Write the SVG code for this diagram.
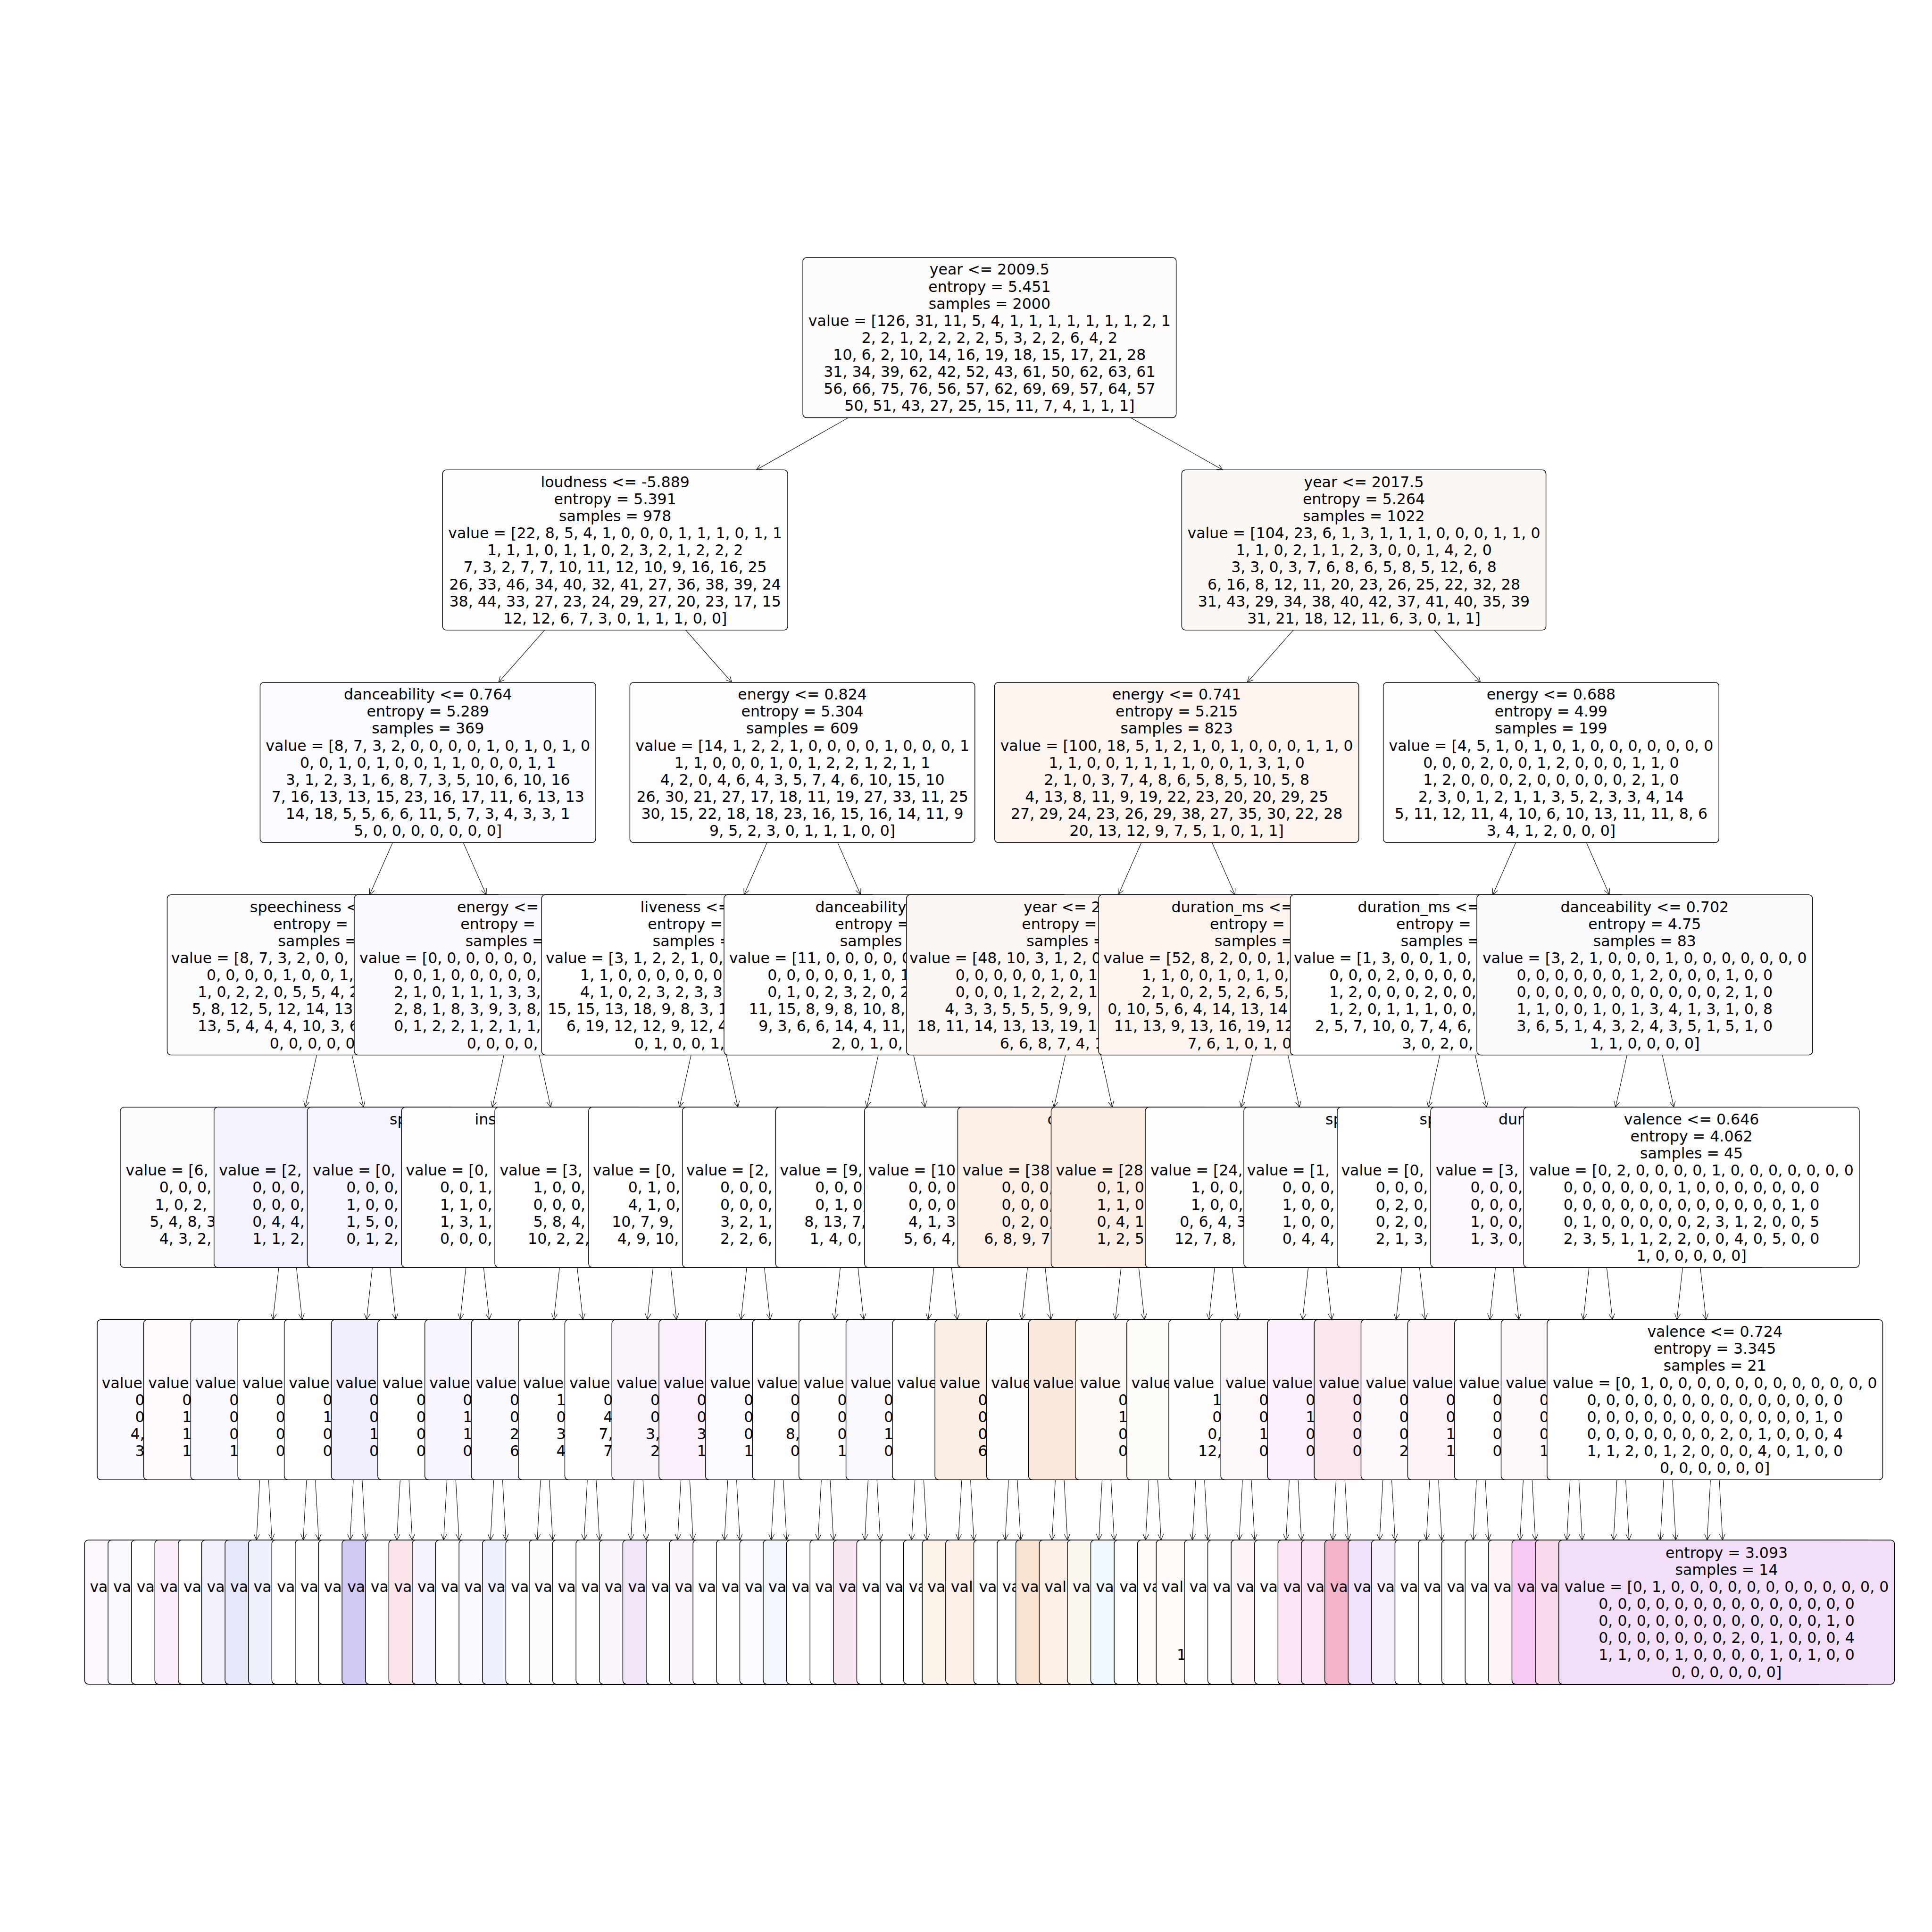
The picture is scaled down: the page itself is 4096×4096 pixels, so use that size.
<svg xmlns="http://www.w3.org/2000/svg" width="4096" height="4096" viewBox="0 0 4096 4096">
<defs>
<style>
text{font-family:"DejaVu Sans","Liberation Sans",sans-serif;font-size:12.1px;fill:#000}
.m{text-anchor:middle}
.e{text-anchor:end}
.n rect{stroke:#000;stroke-width:0.55}
#connectors path{fill:none;stroke:#000;stroke-width:0.4;marker-end:url(#ah)}
</style>
<marker id="ah" markerUnits="userSpaceOnUse" markerWidth="12" markerHeight="12" viewBox="-6 -6 12 12" refX="0" refY="0" orient="auto" overflow="visible">
<path d="M-4.8,-2.3 L0,0 L-4.8,2.3" fill="none" stroke="#000" stroke-width="0.4"/>
</marker>
</defs>
<rect width="4096" height="4096" fill="#fff"/>
<g transform="scale(2.6122449)">
<g id="connectors">
<path d="M688.53,339 L613.80,381.4"/><path d="M917.64,339 L992.37,381.4"/>
<path d="M441.97,511.4 L404.61,553.8"/><path d="M556.53,511.4 L593.89,553.8"/>
<path d="M1049.65,511.4 L1012.29,553.8"/><path d="M1164.20,511.4 L1201.57,553.8"/>
<path d="M318.69,683.8 L300.00,726.2"/><path d="M375.97,683.8 L394.65,726.2"/>
<path d="M622.53,683.8 L603.85,726.2"/><path d="M679.81,683.8 L698.49,726.2"/>
<path d="M926.37,683.8 L907.69,726.2"/><path d="M983.65,683.8 L1002.33,726.2"/>
<path d="M1230.21,683.8 L1211.53,726.2"/><path d="M1287.49,683.8 L1306.17,726.2"/>
<path d="M257.05,856.2 L247.71,898.6"/><path d="M285.69,856.2 L295.03,898.6"/>
<path d="M408.97,856.2 L399.63,898.6"/><path d="M437.61,856.2 L446.95,898.6"/>
<path d="M560.89,856.2 L551.55,898.6"/><path d="M589.53,856.2 L598.87,898.6"/>
<path d="M712.81,856.2 L703.47,898.6"/><path d="M741.45,856.2 L750.79,898.6"/>
<path d="M864.73,856.2 L855.39,898.6"/><path d="M893.37,856.2 L902.71,898.6"/>
<path d="M1016.65,856.2 L1007.31,898.6"/><path d="M1045.29,856.2 L1054.63,898.6"/>
<path d="M1168.57,856.2 L1159.23,898.6"/><path d="M1197.21,856.2 L1206.55,898.6"/>
<path d="M1320.49,856.2 L1311.15,898.6"/><path d="M1349.13,856.2 L1358.47,898.6"/>
<path d="M226.23,1028.6 L221.56,1071"/><path d="M240.55,1028.6 L245.22,1071"/>
<path d="M302.19,1028.6 L297.52,1071"/><path d="M316.51,1028.6 L321.18,1071"/>
<path d="M378.15,1028.6 L373.48,1071"/><path d="M392.47,1028.6 L397.14,1071"/>
<path d="M454.11,1028.6 L449.44,1071"/><path d="M468.43,1028.6 L473.10,1071"/>
<path d="M530.07,1028.6 L525.40,1071"/><path d="M544.39,1028.6 L549.06,1071"/>
<path d="M606.03,1028.6 L601.36,1071"/><path d="M620.35,1028.6 L625.02,1071"/>
<path d="M681.99,1028.6 L677.32,1071"/><path d="M696.31,1028.6 L700.98,1071"/>
<path d="M757.95,1028.6 L753.28,1071"/><path d="M772.27,1028.6 L776.94,1071"/>
<path d="M833.91,1028.6 L829.24,1071"/><path d="M848.23,1028.6 L852.90,1071"/>
<path d="M909.87,1028.6 L905.20,1071"/><path d="M924.19,1028.6 L928.86,1071"/>
<path d="M985.83,1028.6 L981.16,1071"/><path d="M1000.15,1028.6 L1004.82,1071"/>
<path d="M1061.79,1028.6 L1057.12,1071"/><path d="M1076.11,1028.6 L1080.78,1071"/>
<path d="M1137.75,1028.6 L1133.08,1071"/><path d="M1152.07,1028.6 L1156.74,1071"/>
<path d="M1213.71,1028.6 L1209.04,1071"/><path d="M1228.03,1028.6 L1232.70,1071"/>
<path d="M1289.67,1028.6 L1285.00,1071"/><path d="M1303.99,1028.6 L1308.66,1071"/>
<path d="M1365.63,1028.6 L1360.96,1071"/><path d="M1379.95,1028.6 L1384.62,1071"/>
<path d="M210.82,1201 L208.13,1249.9"/><path d="M217.98,1201 L220.67,1249.9"/>
<path d="M248.80,1201 L246.11,1249.9"/><path d="M255.96,1201 L258.65,1249.9"/>
<path d="M286.78,1201 L284.09,1249.9"/><path d="M293.94,1201 L296.63,1249.9"/>
<path d="M324.76,1201 L322.07,1249.9"/><path d="M331.92,1201 L334.61,1249.9"/>
<path d="M362.74,1201 L360.05,1249.9"/><path d="M369.90,1201 L372.59,1249.9"/>
<path d="M400.72,1201 L398.03,1249.9"/><path d="M407.88,1201 L410.57,1249.9"/>
<path d="M438.70,1201 L436.01,1249.9"/><path d="M445.86,1201 L448.55,1249.9"/>
<path d="M476.68,1201 L473.99,1249.9"/><path d="M483.84,1201 L486.53,1249.9"/>
<path d="M514.66,1201 L511.97,1249.9"/><path d="M521.82,1201 L524.51,1249.9"/>
<path d="M552.64,1201 L549.95,1249.9"/><path d="M559.80,1201 L562.49,1249.9"/>
<path d="M590.62,1201 L587.93,1249.9"/><path d="M597.78,1201 L600.47,1249.9"/>
<path d="M628.60,1201 L625.91,1249.9"/><path d="M635.76,1201 L638.45,1249.9"/>
<path d="M666.58,1201 L663.89,1249.9"/><path d="M673.74,1201 L676.43,1249.9"/>
<path d="M704.56,1201 L701.87,1249.9"/><path d="M711.72,1201 L714.41,1249.9"/>
<path d="M742.54,1201 L739.85,1249.9"/><path d="M749.70,1201 L752.39,1249.9"/>
<path d="M780.52,1201 L777.83,1249.9"/><path d="M787.68,1201 L790.37,1249.9"/>
<path d="M818.50,1201 L815.81,1249.9"/><path d="M825.66,1201 L828.35,1249.9"/>
<path d="M856.48,1201 L853.79,1249.9"/><path d="M863.64,1201 L866.33,1249.9"/>
<path d="M894.46,1201 L891.77,1249.9"/><path d="M901.62,1201 L904.31,1249.9"/>
<path d="M932.44,1201 L929.75,1249.9"/><path d="M939.60,1201 L942.29,1249.9"/>
<path d="M970.42,1201 L967.73,1249.9"/><path d="M977.58,1201 L980.27,1249.9"/>
<path d="M1008.40,1201 L1005.71,1249.9"/><path d="M1015.56,1201 L1018.25,1249.9"/>
<path d="M1046.38,1201 L1043.69,1249.9"/><path d="M1053.54,1201 L1056.23,1249.9"/>
<path d="M1084.36,1201 L1081.67,1249.9"/><path d="M1091.52,1201 L1094.21,1249.9"/>
<path d="M1122.34,1201 L1119.65,1249.9"/><path d="M1129.50,1201 L1132.19,1249.9"/>
<path d="M1160.32,1201 L1157.63,1249.9"/><path d="M1167.48,1201 L1170.17,1249.9"/>
<path d="M1198.30,1201 L1195.61,1249.9"/><path d="M1205.46,1201 L1208.15,1249.9"/>
<path d="M1236.28,1201 L1233.59,1249.9"/><path d="M1243.44,1201 L1246.13,1249.9"/>
<path d="M1274.26,1201 L1271.57,1249.9"/><path d="M1281.42,1201 L1284.11,1249.9"/>
<path d="M1312.24,1201 L1309.55,1249.9"/><path d="M1319.40,1201 L1322.09,1249.9"/>
<path d="M1350.22,1201 L1347.53,1249.9"/><path d="M1357.38,1201 L1360.07,1249.9"/>
<path d="M1388.20,1201 L1385.51,1249.9"/><path d="M1395.36,1201 L1398.05,1249.9"/>
</g>

<g id="node-L0-0" class="n"><rect x="651.6" y="209" width="303" height="130" rx="3" fill="#fdfcfb"/>
<text class="m" x="803.1" y="222.98"><tspan x="803.1">year &lt;= 2009.5</tspan><tspan x="803.1" dy="13.83">entropy = 5.451</tspan><tspan x="803.1" dy="13.83">samples = 2000</tspan><tspan x="803.1" dy="13.83">value = [126, 31, 11, 5, 4, 1, 1, 1, 1, 1, 1, 1, 2, 1</tspan><tspan x="803.1" dy="13.83">2, 2, 1, 2, 2, 2, 2, 5, 3, 2, 2, 6, 4, 2</tspan><tspan x="803.1" dy="13.83">10, 6, 2, 10, 14, 16, 19, 18, 15, 17, 21, 28</tspan><tspan x="803.1" dy="13.83">31, 34, 39, 62, 42, 52, 43, 61, 50, 62, 63, 61</tspan><tspan x="803.1" dy="13.83">56, 66, 75, 76, 56, 57, 62, 69, 69, 57, 64, 57</tspan><tspan x="803.1" dy="13.83">50, 51, 43, 27, 25, 15, 11, 7, 4, 1, 1, 1]</tspan></text></g>

<g id="node-L1-0" class="n"><rect x="359.2" y="381.4" width="280.1" height="130" rx="3" fill="#fefefe"/>
<text class="m" x="499.25" y="395.38"><tspan x="499.25">loudness &lt;= -5.889</tspan><tspan x="499.25" dy="13.83">entropy = 5.391</tspan><tspan x="499.25" dy="13.83">samples = 978</tspan><tspan x="499.25" dy="13.83">value = [22, 8, 5, 4, 1, 0, 0, 0, 1, 1, 1, 0, 1, 1</tspan><tspan x="499.25" dy="13.83">1, 1, 1, 0, 1, 1, 0, 2, 3, 2, 1, 2, 2, 2</tspan><tspan x="499.25" dy="13.83">7, 3, 2, 7, 7, 10, 11, 12, 10, 9, 16, 16, 25</tspan><tspan x="499.25" dy="13.83">26, 33, 46, 34, 40, 32, 41, 27, 36, 38, 39, 24</tspan><tspan x="499.25" dy="13.83">38, 44, 33, 27, 23, 24, 29, 27, 20, 23, 17, 15</tspan><tspan x="499.25" dy="13.83">12, 12, 6, 7, 3, 0, 1, 1, 1, 0, 0]</tspan></text></g>

<g id="node-L1-1" class="n"><rect x="959.1" y="381.4" width="295.6" height="130" rx="3" fill="#fbf7f3"/>
<text class="m" x="1106.9" y="395.38"><tspan x="1106.9">year &lt;= 2017.5</tspan><tspan x="1106.9" dy="13.83">entropy = 5.264</tspan><tspan x="1106.9" dy="13.83">samples = 1022</tspan><tspan x="1106.9" dy="13.83">value = [104, 23, 6, 1, 3, 1, 1, 1, 0, 0, 0, 1, 1, 0</tspan><tspan x="1106.9" dy="13.83">1, 1, 0, 2, 1, 1, 2, 3, 0, 0, 1, 4, 2, 0</tspan><tspan x="1106.9" dy="13.83">3, 3, 0, 3, 7, 6, 8, 6, 5, 8, 5, 12, 6, 8</tspan><tspan x="1106.9" dy="13.83">6, 16, 8, 12, 11, 20, 23, 26, 25, 22, 32, 28</tspan><tspan x="1106.9" dy="13.83">31, 43, 29, 34, 38, 40, 42, 37, 41, 40, 35, 39</tspan><tspan x="1106.9" dy="13.83">31, 21, 18, 12, 11, 6, 3, 0, 1, 1]</tspan></text></g>

<g id="node-L2-0" class="n"><rect x="211.1" y="553.8" width="272.4" height="130" rx="3" fill="#fafbfe"/>
<text class="m" x="347.3" y="567.78"><tspan x="347.3">danceability &lt;= 0.764</tspan><tspan x="347.3" dy="13.83">entropy = 5.289</tspan><tspan x="347.3" dy="13.83">samples = 369</tspan><tspan x="347.3" dy="13.83">value = [8, 7, 3, 2, 0, 0, 0, 0, 1, 0, 1, 0, 1, 0</tspan><tspan x="347.3" dy="13.83">0, 0, 1, 0, 1, 0, 0, 1, 1, 0, 0, 0, 1, 1</tspan><tspan x="347.3" dy="13.83">3, 1, 2, 3, 1, 6, 8, 7, 3, 5, 10, 6, 10, 16</tspan><tspan x="347.3" dy="13.83">7, 16, 13, 13, 15, 23, 16, 17, 11, 6, 13, 13</tspan><tspan x="347.3" dy="13.83">14, 18, 5, 5, 6, 6, 11, 5, 7, 3, 4, 3, 3, 1</tspan><tspan x="347.3" dy="13.83">5, 0, 0, 0, 0, 0, 0, 0]</tspan></text></g>

<g id="node-L2-1" class="n"><rect x="511.2" y="553.8" width="280" height="130" rx="3" fill="#fdfdff"/>
<text class="m" x="651.2" y="567.78"><tspan x="651.2">energy &lt;= 0.824</tspan><tspan x="651.2" dy="13.83">entropy = 5.304</tspan><tspan x="651.2" dy="13.83">samples = 609</tspan><tspan x="651.2" dy="13.83">value = [14, 1, 2, 2, 1, 0, 0, 0, 0, 1, 0, 0, 0, 1</tspan><tspan x="651.2" dy="13.83">1, 1, 0, 0, 0, 1, 0, 1, 2, 2, 1, 2, 1, 1</tspan><tspan x="651.2" dy="13.83">4, 2, 0, 4, 6, 4, 3, 5, 7, 4, 6, 10, 15, 10</tspan><tspan x="651.2" dy="13.83">26, 30, 21, 27, 17, 18, 11, 19, 27, 33, 11, 25</tspan><tspan x="651.2" dy="13.83">30, 15, 22, 18, 18, 23, 16, 15, 16, 14, 11, 9</tspan><tspan x="651.2" dy="13.83">9, 5, 2, 3, 0, 1, 1, 1, 0, 0]</tspan></text></g>

<g id="node-L2-2" class="n"><rect x="807.2" y="553.8" width="295.6" height="130" rx="3" fill="#fcf5ef"/>
<text class="m" x="955" y="567.78"><tspan x="955">energy &lt;= 0.741</tspan><tspan x="955" dy="13.83">entropy = 5.215</tspan><tspan x="955" dy="13.83">samples = 823</tspan><tspan x="955" dy="13.83">value = [100, 18, 5, 1, 2, 1, 0, 1, 0, 0, 0, 1, 1, 0</tspan><tspan x="955" dy="13.83">1, 1, 0, 0, 1, 1, 1, 1, 0, 0, 1, 3, 1, 0</tspan><tspan x="955" dy="13.83">2, 1, 0, 3, 7, 4, 8, 6, 5, 8, 5, 10, 5, 8</tspan><tspan x="955" dy="13.83">4, 13, 8, 11, 9, 19, 22, 23, 20, 20, 29, 25</tspan><tspan x="955" dy="13.83">27, 29, 24, 23, 26, 29, 38, 27, 35, 30, 22, 28</tspan><tspan x="955" dy="13.83">20, 13, 12, 9, 7, 5, 1, 0, 1, 1]</tspan></text></g>

<g id="node-L2-3" class="n"><rect x="1122.65" y="553.8" width="272.4" height="130" rx="3" fill="#fefefe"/>
<text class="m" x="1258.85" y="567.78"><tspan x="1258.85">energy &lt;= 0.688</tspan><tspan x="1258.85" dy="13.83">entropy = 4.99</tspan><tspan x="1258.85" dy="13.83">samples = 199</tspan><tspan x="1258.85" dy="13.83">value = [4, 5, 1, 0, 1, 0, 1, 0, 0, 0, 0, 0, 0, 0</tspan><tspan x="1258.85" dy="13.83">0, 0, 0, 2, 0, 0, 1, 2, 0, 0, 0, 1, 1, 0</tspan><tspan x="1258.85" dy="13.83">1, 2, 0, 0, 0, 2, 0, 0, 0, 0, 0, 2, 1, 0</tspan><tspan x="1258.85" dy="13.83">2, 3, 0, 1, 2, 1, 1, 3, 5, 2, 3, 3, 4, 14</tspan><tspan x="1258.85" dy="13.83">5, 11, 12, 11, 4, 10, 6, 10, 13, 11, 11, 8, 6</tspan><tspan x="1258.85" dy="13.83">3, 4, 1, 2, 0, 0, 0]</tspan></text></g>

<g id="node-L3-0" class="n"><rect x="135.7" y="726.2" width="271.4" height="130" rx="3" fill="#fcfcfe"/>
<text><tspan x="202.9" y="740.18">speechiness &lt;</tspan><tspan x="221.7" y="754.01">entropy =</tspan><tspan x="225.7" y="767.84">samples =</tspan><tspan x="138.9" y="781.67">value = [8, 7, 3, 2, 0, 0,</tspan><tspan x="167.7" y="795.50">0, 0, 0, 0, 1, 0, 0, 1,</tspan><tspan x="160.5" y="809.33">1, 0, 2, 2, 0, 5, 5, 4, 2</tspan><tspan x="155.7" y="823.16">5, 8, 12, 5, 12, 14, 13</tspan><tspan x="160.5" y="836.99">13, 5, 4, 4, 4, 10, 3, 6</tspan><tspan x="218.9" y="850.82">0, 0, 0, 0, 0</tspan></text></g>

<g id="node-L3-1" class="n"><rect x="287.5" y="726.2" width="271.6" height="130" rx="3" fill="#f9f9fe"/>
<text><tspan x="370.9" y="740.18">energy &lt;=</tspan><tspan x="373.7" y="754.01">entropy =</tspan><tspan x="377.7" y="767.84">samples =</tspan><tspan x="291.7" y="781.67">value = [0, 0, 0, 0, 0, 0,</tspan><tspan x="319.7" y="795.50">0, 0, 1, 0, 0, 0, 0, 0,</tspan><tspan x="319.7" y="809.33">2, 1, 0, 1, 1, 1, 3, 3,</tspan><tspan x="319.7" y="823.16">2, 8, 1, 8, 3, 9, 3, 8,</tspan><tspan x="319.7" y="836.99">0, 1, 2, 2, 1, 2, 1, 1,</tspan><tspan x="378.9" y="850.82">0, 0, 0, 0,</tspan></text></g>

<g id="node-L3-2" class="n"><rect x="439.6" y="726.2" width="271.2" height="130" rx="3" fill="#ffffff"/>
<text><tspan x="519.7" y="740.18">liveness &lt;=</tspan><tspan x="525.7" y="754.01">entropy =</tspan><tspan x="529.7" y="767.84">samples =</tspan><tspan x="442.9" y="781.67">value = [3, 1, 2, 2, 1, 0,</tspan><tspan x="470.9" y="795.50">1, 1, 0, 0, 0, 0, 0, 0,</tspan><tspan x="470.9" y="809.33">4, 1, 0, 2, 3, 2, 3, 3,</tspan><tspan x="444.5" y="823.16">15, 15, 13, 18, 9, 8, 3, 1</tspan><tspan x="459.7" y="836.99">6, 19, 12, 12, 9, 12, 4</tspan><tspan x="514.9" y="850.82">0, 1, 0, 0, 1,</tspan></text></g>

<g id="node-L3-3" class="n"><rect x="587.6" y="726.2" width="279" height="130" rx="3" fill="#fdfdfe"/>
<text><tspan x="661.7" y="740.18">danceability</tspan><tspan x="677.7" y="754.01">entropy =</tspan><tspan x="681.7" y="767.84">samples</tspan><tspan x="591.7" y="781.67">value = [11, 0, 0, 0, 0, 0</tspan><tspan x="622.9" y="795.50">0, 0, 0, 0, 0, 1, 0, 1</tspan><tspan x="622.9" y="809.33">0, 1, 0, 2, 3, 2, 0, 2</tspan><tspan x="607.7" y="823.16">11, 15, 8, 9, 8, 10, 8,</tspan><tspan x="615.7" y="836.99">9, 3, 6, 6, 14, 4, 11,</tspan><tspan x="674.9" y="850.82">2, 0, 1, 0,</tspan></text></g>

<g id="node-L3-4" class="n"><rect x="735.7" y="726.2" width="286.6" height="130" rx="3" fill="#fbf6f2"/>
<text><tspan x="830.7" y="740.18">year &lt;= 2</tspan><tspan x="829.3" y="754.01">entropy =</tspan><tspan x="833.1" y="767.84">samples =</tspan><tspan x="738.1" y="781.67">value = [48, 10, 3, 1, 2, 0</tspan><tspan x="775.5" y="795.50">0, 0, 0, 0, 0, 1, 0, 1</tspan><tspan x="775.5" y="809.33">0, 0, 0, 1, 2, 2, 2, 1</tspan><tspan x="766.9" y="823.16">4, 3, 3, 5, 5, 5, 9, 9,</tspan><tspan x="744.3" y="836.99">18, 11, 14, 13, 13, 19, 1</tspan><tspan x="811.5" y="850.82">6, 6, 8, 7, 4, 1</tspan></text></g>

<g id="node-L3-5" class="n"><rect x="891.6" y="726.2" width="278.8" height="130" rx="3" fill="#fcf5ef"/>
<text><tspan x="950.7" y="740.18">duration_ms &lt;=</tspan><tspan x="981.9" y="754.01">entropy =</tspan><tspan x="985.7" y="767.84">samples =</tspan><tspan x="895.5" y="781.67">value = [52, 8, 2, 0, 0, 1,</tspan><tspan x="926.7" y="795.50">1, 1, 0, 0, 1, 0, 1, 0,</tspan><tspan x="926.7" y="809.33">2, 1, 0, 2, 5, 2, 6, 5,</tspan><tspan x="898.9" y="823.16">0, 10, 5, 6, 4, 14, 13, 14</tspan><tspan x="904.1" y="836.99">11, 13, 9, 13, 16, 19, 12</tspan><tspan x="963.7" y="850.82">7, 6, 1, 0, 1, 0</tspan></text></g>

<g id="node-L3-6" class="n"><rect x="1047.2" y="726.2" width="271.4" height="130" rx="3" fill="#ffffff"/>
<text><tspan x="1101.9" y="740.18">duration_ms &lt;=</tspan><tspan x="1133.1" y="754.01">entropy =</tspan><tspan x="1136.9" y="767.84">samples =</tspan><tspan x="1050.1" y="781.67">value = [1, 3, 0, 0, 1, 0,</tspan><tspan x="1078.9" y="795.50">0, 0, 0, 2, 0, 0, 0, 0,</tspan><tspan x="1078.9" y="809.33">1, 2, 0, 0, 0, 2, 0, 0,</tspan><tspan x="1078.9" y="823.16">1, 2, 0, 1, 1, 1, 0, 0,</tspan><tspan x="1067.3" y="836.99">2, 5, 7, 10, 0, 7, 4, 6,</tspan><tspan x="1137.9" y="850.82">3, 0, 2, 0,</tspan></text></g>

<g id="node-L3-7" class="n"><rect x="1198.6" y="726.2" width="272.4" height="130" rx="3" fill="#fafafc"/>
<text class="m" x="1334.8" y="740.18"><tspan x="1334.8">danceability &lt;= 0.702</tspan><tspan x="1334.8" dy="13.83">entropy = 4.75</tspan><tspan x="1334.8" dy="13.83">samples = 83</tspan><tspan x="1334.8" dy="13.83">value = [3, 2, 1, 0, 0, 0, 1, 0, 0, 0, 0, 0, 0, 0</tspan><tspan x="1334.8" dy="13.83">0, 0, 0, 0, 0, 0, 1, 2, 0, 0, 0, 1, 0, 0</tspan><tspan x="1334.8" dy="13.83">0, 0, 0, 0, 0, 0, 0, 0, 0, 0, 0, 2, 1, 0</tspan><tspan x="1334.8" dy="13.83">1, 1, 0, 0, 1, 0, 1, 3, 4, 1, 3, 1, 0, 8</tspan><tspan x="1334.8" dy="13.83">3, 6, 5, 1, 4, 3, 2, 4, 3, 5, 1, 5, 1, 0</tspan><tspan x="1334.8" dy="13.83">1, 1, 0, 0, 0, 0]</tspan></text></g>

<g id="node-L4-0" class="n"><rect x="97.6" y="898.6" width="271.6" height="130" rx="3" fill="#fbfbfe"/>
<text><tspan x="102" y="954.07">value = [6,</tspan><tspan x="129.3" y="967.90">0, 0, 0,</tspan><tspan x="125.8" y="981.73">1, 0, 2,</tspan><tspan x="121.4" y="995.56">5, 4, 8, 3</tspan><tspan x="129.3" y="1009.39">4, 3, 2,</tspan></text></g>
<g id="node-L4-1" class="n"><rect x="173.7" y="898.6" width="271.2" height="130" rx="3" fill="#f4f2fd"/>
<text><tspan x="177.7" y="954.07">value = [2,</tspan><tspan x="204.9" y="967.90">0, 0, 0,</tspan><tspan x="204.9" y="981.73">0, 0, 0,</tspan><tspan x="204.9" y="995.56">0, 4, 4,</tspan><tspan x="204.9" y="1009.39">1, 1, 2,</tspan></text></g>
<g id="node-L4-2" class="n"><rect x="249.4" y="898.6" width="271.8" height="130" rx="3" fill="#f6f4fe"/>
<text><tspan x="316.2" y="912.58">sp</tspan><tspan x="253.8" y="954.07">value = [0,</tspan><tspan x="281.1" y="967.90">0, 0, 0,</tspan><tspan x="281.1" y="981.73">1, 0, 0,</tspan><tspan x="281.1" y="995.56">1, 5, 0,</tspan><tspan x="281.1" y="1009.39">0, 1, 2,</tspan></text></g>
<g id="node-L4-3" class="n"><rect x="325.9" y="898.6" width="270.8" height="130" rx="3" fill="#fefefe"/>
<text><tspan x="385.3" y="912.58">ins</tspan><tspan x="329.4" y="954.07">value = [0,</tspan><tspan x="357.2" y="967.90">0, 0, 1,</tspan><tspan x="357.2" y="981.73">1, 1, 0,</tspan><tspan x="357.2" y="995.56">1, 3, 1,</tspan><tspan x="357.2" y="1009.39">0, 0, 0,</tspan></text></g>
<g id="node-L4-4" class="n"><rect x="401.6" y="898.6" width="271.2" height="130" rx="3" fill="#ffffff"/>
<text><tspan x="405.6" y="954.07">value = [3,</tspan><tspan x="432.8" y="967.90">1, 0, 0,</tspan><tspan x="432.8" y="981.73">0, 0, 0,</tspan><tspan x="432.8" y="995.56">5, 8, 4,</tspan><tspan x="428.4" y="1009.39">10, 2, 2,</tspan></text></g>
<g id="node-L4-5" class="n"><rect x="477.7" y="898.6" width="271" height="130" rx="3" fill="#ffffff"/>
<text><tspan x="481.2" y="954.07">value = [0,</tspan><tspan x="509.8" y="967.90">0, 1, 0,</tspan><tspan x="509.8" y="981.73">4, 1, 0,</tspan><tspan x="496.6" y="995.56">10, 7, 9,</tspan><tspan x="501" y="1009.39">4, 9, 10,</tspan></text></g>
<g id="node-L4-6" class="n"><rect x="553.8" y="898.6" width="270.6" height="130" rx="3" fill="#ffffff"/>
<text><tspan x="556.9" y="954.07">value = [2,</tspan><tspan x="584.6" y="967.90">0, 0, 0,</tspan><tspan x="584.6" y="981.73">0, 0, 0,</tspan><tspan x="584.6" y="995.56">3, 2, 1,</tspan><tspan x="584.6" y="1009.39">2, 2, 6,</tspan></text></g>
<g id="node-L4-7" class="n"><rect x="629.5" y="898.6" width="271.2" height="130" rx="3" fill="#ffffff"/>
<text><tspan x="633" y="954.07">value = [9,</tspan><tspan x="661.6" y="967.90">0, 0, 0,</tspan><tspan x="661.6" y="981.73">0, 1, 0,</tspan><tspan x="652.8" y="995.56">8, 13, 7,</tspan><tspan x="657.2" y="1009.39">1, 4, 0,</tspan></text></g>
<g id="node-L4-8" class="n"><rect x="701.6" y="898.6" width="279" height="130" rx="3" fill="#fefcfc"/>
<text><tspan x="704.7" y="954.07">value = [10</tspan><tspan x="737.3" y="967.90">0, 0, 0</tspan><tspan x="737.3" y="981.73">0, 0, 0</tspan><tspan x="737.3" y="995.56">4, 1, 3</tspan><tspan x="733.4" y="1009.39">5, 6, 4,</tspan></text></g>
<g id="node-L4-9" class="n"><rect x="777.3" y="898.6" width="279.4" height="130" rx="3" fill="#fcf0e6"/>
<text><tspan x="850" y="912.58">d</tspan><tspan x="781.1" y="954.07">value = [38</tspan><tspan x="812.9" y="967.90">0, 0, 0,</tspan><tspan x="812.9" y="981.73">0, 0, 0,</tspan><tspan x="812.9" y="995.56">0, 2, 0,</tspan><tspan x="798.6" y="1009.39">6, 8, 9, 7,</tspan></text></g>
<g id="node-L4-10" class="n"><rect x="853.1" y="898.6" width="279.8" height="130" rx="3" fill="#fbede2"/>
<text><tspan x="856.9" y="954.07">value = [28</tspan><tspan x="890.2" y="967.90">0, 1, 0,</tspan><tspan x="890.2" y="981.73">1, 1, 0,</tspan><tspan x="890.2" y="995.56">0, 4, 1,</tspan><tspan x="890.2" y="1009.39">1, 2, 5,</tspan></text></g>
<g id="node-L4-11" class="n"><rect x="929.5" y="898.6" width="278.8" height="130" rx="3" fill="#fefdfc"/>
<text><tspan x="933.7" y="954.07">value = [24,</tspan><tspan x="966.6" y="967.90">1, 0, 0,</tspan><tspan x="966.6" y="981.73">1, 0, 0,</tspan><tspan x="957.5" y="995.56">0, 6, 4, 3</tspan><tspan x="953.3" y="1009.39">12, 7, 8,</tspan></text></g>
<g id="node-L4-12" class="n"><rect x="1009.5" y="898.6" width="270.8" height="130" rx="3" fill="#fefbfb"/>
<text><tspan x="1075.7" y="912.58">sp</tspan><tspan x="1012.1" y="954.07">value = [1,</tspan><tspan x="1040.8" y="967.90">0, 0, 0,</tspan><tspan x="1040.8" y="981.73">1, 0, 0,</tspan><tspan x="1040.8" y="995.56">1, 0, 0,</tspan><tspan x="1040.8" y="1009.39">0, 4, 4,</tspan></text></g>
<g id="node-L4-13" class="n"><rect x="1085.3" y="898.6" width="271.2" height="130" rx="3" fill="#ffffff"/>
<text><tspan x="1152.1" y="912.58">sp</tspan><tspan x="1088.5" y="954.07">value = [0,</tspan><tspan x="1116.6" y="967.90">0, 0, 0,</tspan><tspan x="1116.6" y="981.73">0, 2, 0,</tspan><tspan x="1116.6" y="995.56">0, 2, 0,</tspan><tspan x="1116.6" y="1009.39">2, 1, 3,</tspan></text></g>
<g id="node-L4-14" class="n"><rect x="1161.1" y="898.6" width="271.4" height="130" rx="3" fill="#fdf8fd"/>
<text><tspan x="1216.2" y="912.58">dur</tspan><tspan x="1165.3" y="954.07">value = [3,</tspan><tspan x="1193.4" y="967.90">0, 0, 0,</tspan><tspan x="1193.4" y="981.73">0, 0, 0,</tspan><tspan x="1193.4" y="995.56">1, 0, 0,</tspan><tspan x="1193.4" y="1009.39">1, 3, 0,</tspan></text></g>
<g id="node-L4-15" class="n"><rect x="1236.6" y="898.6" width="272.4" height="130" rx="3" fill="#ffffff"/>
<text class="m" x="1372.8" y="912.58"><tspan x="1372.8">valence &lt;= 0.646</tspan><tspan x="1372.8" dy="13.83">entropy = 4.062</tspan><tspan x="1372.8" dy="13.83">samples = 45</tspan><tspan x="1372.8" dy="13.83">value = [0, 2, 0, 0, 0, 0, 1, 0, 0, 0, 0, 0, 0, 0</tspan><tspan x="1372.8" dy="13.83">0, 0, 0, 0, 0, 0, 1, 0, 0, 0, 0, 0, 0, 0</tspan><tspan x="1372.8" dy="13.83">0, 0, 0, 0, 0, 0, 0, 0, 0, 0, 0, 0, 1, 0</tspan><tspan x="1372.8" dy="13.83">0, 1, 0, 0, 0, 0, 0, 2, 3, 1, 2, 0, 0, 5</tspan><tspan x="1372.8" dy="13.83">2, 3, 5, 1, 1, 2, 2, 0, 0, 4, 0, 5, 0, 0</tspan><tspan x="1372.8" dy="13.83">1, 0, 0, 0, 0, 0]</tspan></text></g>

<g id="node-L5-0" class="n"><rect x="78.9" y="1071" width="271" height="130" rx="3" fill="#f8f8fe"/><text x="82.6" y="1126.47">value</text><text class="e"><tspan x="117.4" y="1140.30">0</tspan><tspan x="117.4" y="1154.13">0</tspan><tspan x="117.4" y="1167.96">4,</tspan><tspan x="117.4" y="1181.79">3</tspan></text></g>
<g id="node-L5-1" class="n"><rect x="116.6" y="1071" width="271" height="130" rx="3" fill="#fefafe"/><text x="120.3" y="1126.47">value</text><text class="e"><tspan x="155.6" y="1140.30">0</tspan><tspan x="155.6" y="1154.13">1</tspan><tspan x="155.6" y="1167.96">1</tspan><tspan x="155.6" y="1181.79">1</tspan></text></g>
<g id="node-L5-2" class="n"><rect x="154.8" y="1071" width="271" height="130" rx="3" fill="#f8f8fe"/><text x="158.5" y="1126.47">value</text><text class="e"><tspan x="193.8" y="1140.30">0</tspan><tspan x="193.8" y="1154.13">0</tspan><tspan x="193.8" y="1167.96">0</tspan><tspan x="193.8" y="1181.79">1</tspan></text></g>
<g id="node-L5-3" class="n"><rect x="193" y="1071" width="271" height="130" rx="3" fill="#ffffff"/><text x="196.7" y="1126.47">value</text><text class="e"><tspan x="231.5" y="1140.30">0</tspan><tspan x="231.5" y="1154.13">0</tspan><tspan x="231.5" y="1167.96">0</tspan><tspan x="231.5" y="1181.79">0</tspan></text></g>
<g id="node-L5-4" class="n"><rect x="230.7" y="1071" width="271" height="130" rx="3" fill="#ffffff"/><text x="234.4" y="1126.47">value</text><text class="e"><tspan x="269.7" y="1140.30">0</tspan><tspan x="269.7" y="1154.13">1</tspan><tspan x="269.7" y="1167.96">0</tspan><tspan x="269.7" y="1181.79">0</tspan></text></g>
<g id="node-L5-5" class="n"><rect x="268.9" y="1071" width="271" height="130" rx="3" fill="#f0eefd"/><text x="272.6" y="1126.47">value</text><text class="e"><tspan x="307.4" y="1140.30">0</tspan><tspan x="307.4" y="1154.13">0</tspan><tspan x="307.4" y="1167.96">1</tspan><tspan x="307.4" y="1181.79">0</tspan></text></g>
<g id="node-L5-6" class="n"><rect x="306.6" y="1071" width="271" height="130" rx="3" fill="#ffffff"/><text x="310.3" y="1126.47">value</text><text class="e"><tspan x="345.6" y="1140.30">0</tspan><tspan x="345.6" y="1154.13">0</tspan><tspan x="345.6" y="1167.96">0</tspan><tspan x="345.6" y="1181.79">0</tspan></text></g>
<g id="node-L5-7" class="n"><rect x="344.8" y="1071" width="271" height="130" rx="3" fill="#f9f5fe"/><text x="348.5" y="1126.47">value</text><text class="e"><tspan x="383.3" y="1140.30">0</tspan><tspan x="383.3" y="1154.13">1</tspan><tspan x="383.3" y="1167.96">1</tspan><tspan x="383.3" y="1181.79">0</tspan></text></g>
<g id="node-L5-8" class="n"><rect x="382.5" y="1071" width="271" height="130" rx="3" fill="#f9f9fe"/><text x="386.2" y="1126.47">value</text><text class="e"><tspan x="421.5" y="1140.30">0</tspan><tspan x="421.5" y="1154.13">0</tspan><tspan x="421.5" y="1167.96">2</tspan><tspan x="421.5" y="1181.79">6</tspan></text></g>
<g id="node-L5-9" class="n"><rect x="420.7" y="1071" width="271" height="130" rx="3" fill="#fefefe"/><text x="424.4" y="1126.47">value</text><text class="e"><tspan x="459.2" y="1140.30">1</tspan><tspan x="459.2" y="1154.13">0</tspan><tspan x="459.2" y="1167.96">3</tspan><tspan x="459.2" y="1181.79">4</tspan></text></g>
<g id="node-L5-10" class="n"><rect x="458.4" y="1071" width="271" height="130" rx="3" fill="#ffffff"/><text x="462.1" y="1126.47">value</text><text class="e"><tspan x="497.4" y="1140.30">0</tspan><tspan x="497.4" y="1154.13">4</tspan><tspan x="497.4" y="1167.96">7,</tspan><tspan x="497.4" y="1181.79">7</tspan></text></g>
<g id="node-L5-11" class="n"><rect x="496.6" y="1071" width="271" height="130" rx="3" fill="#faf5fc"/><text x="500.3" y="1126.47">value</text><text class="e"><tspan x="535.6" y="1140.30">0</tspan><tspan x="535.6" y="1154.13">0</tspan><tspan x="535.6" y="1167.96">3,</tspan><tspan x="535.6" y="1181.79">2</tspan></text></g>
<g id="node-L5-12" class="n"><rect x="534.8" y="1071" width="271" height="130" rx="3" fill="#fbeffc"/><text x="538.5" y="1126.47">value</text><text class="e"><tspan x="573.3" y="1140.30">0</tspan><tspan x="573.3" y="1154.13">0</tspan><tspan x="573.3" y="1167.96">3</tspan><tspan x="573.3" y="1181.79">1</tspan></text></g>
<g id="node-L5-13" class="n"><rect x="572.5" y="1071" width="271" height="130" rx="3" fill="#fbfafe"/><text x="576.2" y="1126.47">value</text><text class="e"><tspan x="611.5" y="1140.30">0</tspan><tspan x="611.5" y="1154.13">0</tspan><tspan x="611.5" y="1167.96">0</tspan><tspan x="611.5" y="1181.79">1</tspan></text></g>
<g id="node-L5-14" class="n"><rect x="610.7" y="1071" width="271" height="130" rx="3" fill="#ffffff"/><text x="614.4" y="1126.47">value</text><text class="e"><tspan x="649.2" y="1140.30">0</tspan><tspan x="649.2" y="1154.13">0</tspan><tspan x="649.2" y="1167.96">8,</tspan><tspan x="649.2" y="1181.79">0</tspan></text></g>
<g id="node-L5-15" class="n"><rect x="648.4" y="1071" width="271" height="130" rx="3" fill="#fefcfe"/><text x="652.1" y="1126.47">value</text><text class="e"><tspan x="687.4" y="1140.30">0</tspan><tspan x="687.4" y="1154.13">0</tspan><tspan x="687.4" y="1167.96">0</tspan><tspan x="687.4" y="1181.79">1</tspan></text></g>
<g id="node-L5-16" class="n"><rect x="686.6" y="1071" width="271" height="130" rx="3" fill="#fafafe"/><text x="690.3" y="1126.47">value</text><text class="e"><tspan x="725.1" y="1140.30">0</tspan><tspan x="725.1" y="1154.13">0</tspan><tspan x="725.1" y="1167.96">1</tspan><tspan x="725.1" y="1181.79">0</tspan></text></g>
<g id="node-L5-17" class="n"><rect x="724.3" y="1071" width="271" height="130" rx="3" fill="#ffffff"/><text x="728" y="1126.47">value</text></g>
<g id="node-L5-18" class="n"><rect x="758.8" y="1071" width="278.4" height="130" rx="3" fill="#fbeee4"/><text x="762.5" y="1126.47">value</text><text class="e"><tspan x="801.5" y="1140.30">0</tspan><tspan x="801.5" y="1154.13">0</tspan><tspan x="801.5" y="1167.96">0</tspan><tspan x="801.5" y="1181.79">6</tspan></text></g>
<g id="node-L5-19" class="n"><rect x="800.7" y="1071" width="271" height="130" rx="3" fill="#fefdfc"/><text x="804.4" y="1126.47">value</text></g>
<g id="node-L5-20" class="n"><rect x="834.8" y="1071" width="278.4" height="130" rx="3" fill="#fae8dc"/><text x="838.5" y="1126.47">value</text></g>
<g id="node-L5-21" class="n"><rect x="872.7" y="1071" width="278.6" height="130" rx="3" fill="#fdf8f4"/><text x="876.4" y="1126.47">value</text><text class="e"><tspan x="915.3" y="1140.30">0</tspan><tspan x="915.3" y="1154.13">1</tspan><tspan x="915.3" y="1167.96">0</tspan><tspan x="915.3" y="1181.79">0</tspan></text></g>
<g id="node-L5-22" class="n"><rect x="914.5" y="1071" width="271" height="130" rx="3" fill="#fdfbf8"/><text x="918.2" y="1126.47">value</text></g>
<g id="node-L5-23" class="n"><rect x="948.6" y="1071" width="278.6" height="130" rx="3" fill="#fefdfc"/><text x="952.3" y="1126.47">value</text><text class="e"><tspan x="991.6" y="1140.30">1</tspan><tspan x="991.6" y="1154.13">0</tspan><tspan x="991.6" y="1167.96">0,</tspan><tspan x="991.6" y="1181.79">12,</tspan></text></g>
<g id="node-L5-24" class="n"><rect x="990.8" y="1071" width="271" height="130" rx="3" fill="#fdf7fb"/><text x="994.5" y="1126.47">value</text><text class="e"><tspan x="1029.5" y="1140.30">0</tspan><tspan x="1029.5" y="1154.13">0</tspan><tspan x="1029.5" y="1167.96">1</tspan><tspan x="1029.5" y="1181.79">0</tspan></text></g>
<g id="node-L5-25" class="n"><rect x="1028.7" y="1071" width="271" height="130" rx="3" fill="#fbf0fb"/><text x="1032.4" y="1126.47">value</text><text class="e"><tspan x="1067.4" y="1140.30">0</tspan><tspan x="1067.4" y="1154.13">1</tspan><tspan x="1067.4" y="1167.96">0</tspan><tspan x="1067.4" y="1181.79">0</tspan></text></g>
<g id="node-L5-26" class="n"><rect x="1066.6" y="1071" width="271" height="130" rx="3" fill="#fae7ef"/><text x="1070.3" y="1126.47">value</text><text class="e"><tspan x="1105.4" y="1140.30">0</tspan><tspan x="1105.4" y="1154.13">0</tspan><tspan x="1105.4" y="1167.96">0</tspan><tspan x="1105.4" y="1181.79">0</tspan></text></g>
<g id="node-L5-27" class="n"><rect x="1104.6" y="1071" width="271" height="130" rx="3" fill="#fdf8fc"/><text x="1108.3" y="1126.47">value</text><text class="e"><tspan x="1143.3" y="1140.30">0</tspan><tspan x="1143.3" y="1154.13">0</tspan><tspan x="1143.3" y="1167.96">0</tspan><tspan x="1143.3" y="1181.79">2</tspan></text></g>
<g id="node-L5-28" class="n"><rect x="1142.5" y="1071" width="271" height="130" rx="3" fill="#fcf2f8"/><text x="1146.2" y="1126.47">value</text><text class="e"><tspan x="1181.2" y="1140.30">0</tspan><tspan x="1181.2" y="1154.13">0</tspan><tspan x="1181.2" y="1167.96">1</tspan><tspan x="1181.2" y="1181.79">1</tspan></text></g>
<g id="node-L5-29" class="n"><rect x="1180.4" y="1071" width="271" height="130" rx="3" fill="#ffffff"/><text x="1184.1" y="1126.47">value</text><text class="e"><tspan x="1219.1" y="1140.30">0</tspan><tspan x="1219.1" y="1154.13">0</tspan><tspan x="1219.1" y="1167.96">0</tspan><tspan x="1219.1" y="1181.79">0</tspan></text></g>
<g id="node-L5-30" class="n"><rect x="1218.3" y="1071" width="271" height="130" rx="3" fill="#fdf6fa"/><text x="1222" y="1126.47">value</text><text class="e"><tspan x="1257.1" y="1140.30">0</tspan><tspan x="1257.1" y="1154.13">0</tspan><tspan x="1257.1" y="1167.96">0</tspan><tspan x="1257.1" y="1181.79">1</tspan></text></g>
<g id="node-L5-31" class="n"><rect x="1255.6" y="1071" width="272.4" height="130" rx="3" fill="#ffffff"/>
<text class="m" x="1391.8" y="1084.98"><tspan x="1391.8">valence &lt;= 0.724</tspan><tspan x="1391.8" dy="13.83">entropy = 3.345</tspan><tspan x="1391.8" dy="13.83">samples = 21</tspan><tspan x="1391.8" dy="13.83">value = [0, 1, 0, 0, 0, 0, 0, 0, 0, 0, 0, 0, 0, 0</tspan><tspan x="1391.8" dy="13.83">0, 0, 0, 0, 0, 0, 0, 0, 0, 0, 0, 0, 0, 0</tspan><tspan x="1391.8" dy="13.83">0, 0, 0, 0, 0, 0, 0, 0, 0, 0, 0, 0, 1, 0</tspan><tspan x="1391.8" dy="13.83">0, 0, 0, 0, 0, 0, 0, 2, 0, 1, 0, 0, 0, 4</tspan><tspan x="1391.8" dy="13.83">1, 1, 2, 0, 1, 2, 0, 0, 0, 4, 0, 1, 0, 0</tspan><tspan x="1391.8" dy="13.83">0, 0, 0, 0, 0, 0]</tspan></text></g>

<g id="leaf-0" class="n"><rect x="68.70" y="1249.9" width="272.4" height="117" rx="3" fill="#fdf8fd"/><text x="72.9" y="1291.95">va</text></g>
<g id="leaf-1" class="n"><rect x="87.69" y="1249.9" width="272.4" height="117" rx="3" fill="#fafafe"/><text x="91.9" y="1291.95">va</text></g>
<g id="leaf-2" class="n"><rect x="106.68" y="1249.9" width="272.4" height="117" rx="3" fill="#ffffff"/><text x="110.9" y="1291.95">va</text></g>
<g id="leaf-3" class="n"><rect x="125.67" y="1249.9" width="272.4" height="117" rx="3" fill="#fbeefb"/><text x="129.9" y="1291.95">va</text></g>
<g id="leaf-4" class="n"><rect x="144.66" y="1249.9" width="272.4" height="117" rx="3" fill="#ffffff"/><text x="148.9" y="1291.95">va</text></g>
<g id="leaf-5" class="n"><rect x="163.65" y="1249.9" width="272.4" height="117" rx="3" fill="#f2f2fd"/><text x="167.9" y="1291.95">va</text></g>
<g id="leaf-6" class="n"><rect x="182.64" y="1249.9" width="272.4" height="117" rx="3" fill="#e6e8fa"/><text x="186.8" y="1291.95">va</text></g>
<g id="leaf-7" class="n"><rect x="201.63" y="1249.9" width="272.4" height="117" rx="3" fill="#eef0fc"/><text x="205.8" y="1291.95">va</text></g>
<g id="leaf-8" class="n"><rect x="220.62" y="1249.9" width="272.4" height="117" rx="3" fill="#ffffff"/><text x="224.8" y="1291.95">va</text></g>
<g id="leaf-9" class="n"><rect x="239.61" y="1249.9" width="272.4" height="117" rx="3" fill="#ffffff"/><text x="243.8" y="1291.95">va</text></g>
<g id="leaf-10" class="n"><rect x="258.60" y="1249.9" width="272.4" height="117" rx="3" fill="#ffffff"/><text x="262.8" y="1291.95">va</text></g>
<g id="leaf-11" class="n"><rect x="277.59" y="1249.9" width="272.4" height="117" rx="3" fill="#d2c8f4"/><text x="281.8" y="1291.95">va</text></g>
<g id="leaf-12" class="n"><rect x="296.58" y="1249.9" width="272.4" height="117" rx="3" fill="#ffffff"/><text x="300.8" y="1291.95">va</text></g>
<g id="leaf-13" class="n"><rect x="315.57" y="1249.9" width="272.4" height="117" rx="3" fill="#fbe4ea"/><text x="319.8" y="1291.95">va</text></g>
<g id="leaf-14" class="n"><rect x="334.56" y="1249.9" width="272.4" height="117" rx="3" fill="#f5f1fd"/><text x="338.8" y="1291.95">va</text></g>
<g id="leaf-15" class="n"><rect x="353.55" y="1249.9" width="272.4" height="117" rx="3" fill="#ffffff"/><text x="357.8" y="1291.95">va</text></g>
<g id="leaf-16" class="n"><rect x="372.54" y="1249.9" width="272.4" height="117" rx="3" fill="#fbf8fe"/><text x="376.7" y="1291.95">va</text></g>
<g id="leaf-17" class="n"><rect x="391.53" y="1249.9" width="272.4" height="117" rx="3" fill="#eef0fd"/><text x="395.7" y="1291.95">va</text></g>
<g id="leaf-18" class="n"><rect x="410.52" y="1249.9" width="272.4" height="117" rx="3" fill="#ffffff"/><text x="414.7" y="1291.95">va</text></g>
<g id="leaf-19" class="n"><rect x="429.51" y="1249.9" width="272.4" height="117" rx="3" fill="#fdfbfe"/><text x="433.7" y="1291.95">va</text></g>
<g id="leaf-20" class="n"><rect x="448.50" y="1249.9" width="272.4" height="117" rx="3" fill="#ffffff"/><text x="452.7" y="1291.95">va</text></g>
<g id="leaf-21" class="n"><rect x="467.49" y="1249.9" width="272.4" height="117" rx="3" fill="#ffffff"/><text x="471.7" y="1291.95">va</text></g>
<g id="leaf-22" class="n"><rect x="486.48" y="1249.9" width="272.4" height="117" rx="3" fill="#fbf6fd"/><text x="490.7" y="1291.95">va</text></g>
<g id="leaf-23" class="n"><rect x="505.47" y="1249.9" width="272.4" height="117" rx="3" fill="#f2e6f9"/><text x="509.7" y="1291.95">va</text></g>
<g id="leaf-24" class="n"><rect x="524.46" y="1249.9" width="272.4" height="117" rx="3" fill="#ffffff"/><text x="528.7" y="1291.95">va</text></g>
<g id="leaf-25" class="n"><rect x="543.45" y="1249.9" width="272.4" height="117" rx="3" fill="#fbf4fd"/><text x="547.7" y="1291.95">va</text></g>
<g id="leaf-26" class="n"><rect x="562.44" y="1249.9" width="272.4" height="117" rx="3" fill="#ffffff"/><text x="566.6" y="1291.95">va</text></g>
<g id="leaf-27" class="n"><rect x="581.43" y="1249.9" width="272.4" height="117" rx="3" fill="#ffffff"/><text x="585.6" y="1291.95">va</text></g>
<g id="leaf-28" class="n"><rect x="600.42" y="1249.9" width="272.4" height="117" rx="3" fill="#fafbfe"/><text x="604.6" y="1291.95">va</text></g>
<g id="leaf-29" class="n"><rect x="619.41" y="1249.9" width="272.4" height="117" rx="3" fill="#f4f6fd"/><text x="623.6" y="1291.95">va</text></g>
<g id="leaf-30" class="n"><rect x="638.40" y="1249.9" width="272.4" height="117" rx="3" fill="#ffffff"/><text x="642.6" y="1291.95">va</text></g>
<g id="leaf-31" class="n"><rect x="657.39" y="1249.9" width="272.4" height="117" rx="3" fill="#ffffff"/><text x="661.6" y="1291.95">va</text></g>
<g id="leaf-32" class="n"><rect x="676.38" y="1249.9" width="272.4" height="117" rx="3" fill="#f8e5f2"/><text x="680.6" y="1291.95">va</text></g>
<g id="leaf-33" class="n"><rect x="695.37" y="1249.9" width="272.4" height="117" rx="3" fill="#ffffff"/><text x="699.6" y="1291.95">va</text></g>
<g id="leaf-34" class="n"><rect x="714.36" y="1249.9" width="272.4" height="117" rx="3" fill="#ffffff"/><text x="718.6" y="1291.95">va</text></g>
<g id="leaf-35" class="n"><rect x="733.35" y="1249.9" width="272.4" height="117" rx="3" fill="#ffffff"/><text x="737.6" y="1291.95">va</text></g>
<g id="leaf-36" class="n"><rect x="748.50" y="1249.9" width="280" height="117" rx="3" fill="#fcf3ea"/><text x="752.7" y="1291.95">va</text></g>
<g id="leaf-37" class="n"><rect x="767.50" y="1249.9" width="280" height="117" rx="3" fill="#fcf0e8"/><text x="771.7" y="1291.95">val</text></g>
<g id="leaf-38" class="n"><rect x="790.32" y="1249.9" width="272.4" height="117" rx="3" fill="#ffffff"/><text x="794.5" y="1291.95">va</text></g>
<g id="leaf-39" class="n"><rect x="809.31" y="1249.9" width="272.4" height="117" rx="3" fill="#ffffff"/><text x="813.5" y="1291.95">va</text></g>
<g id="leaf-40" class="n"><rect x="824.45" y="1249.9" width="280" height="117" rx="3" fill="#f9e4d3"/><text x="828.6" y="1291.95">va</text></g>
<g id="leaf-41" class="n"><rect x="843.45" y="1249.9" width="280" height="117" rx="3" fill="#fcefe6"/><text x="847.6" y="1291.95">val</text></g>
<g id="leaf-42" class="n"><rect x="866.28" y="1249.9" width="272.4" height="117" rx="3" fill="#fdf7f1"/><text x="870.5" y="1291.95">va</text></g>
<g id="leaf-43" class="n"><rect x="885.27" y="1249.9" width="272.4" height="117" rx="3" fill="#f0f9fd"/><text x="889.5" y="1291.95">va</text></g>
<g id="leaf-44" class="n"><rect x="904.26" y="1249.9" width="272.4" height="117" rx="3" fill="#ffffff"/><text x="908.5" y="1291.95">va</text></g>
<g id="leaf-45" class="n"><rect x="923.25" y="1249.9" width="272.4" height="117" rx="3" fill="#fefbf9"/><text x="927.5" y="1291.95">va</text></g>
<g id="leaf-46" class="n"><rect x="938.40" y="1249.9" width="280" height="117" rx="3" fill="#fdfaf7"/><text x="942.6" y="1291.95">val</text><text class="e" x="962.8" y="1347.27">1</text></g>
<g id="leaf-47" class="n"><rect x="961.23" y="1249.9" width="272.4" height="117" rx="3" fill="#ffffff"/><text x="965.4" y="1291.95">va</text></g>
<g id="leaf-48" class="n"><rect x="980.22" y="1249.9" width="272.4" height="117" rx="3" fill="#ffffff"/><text x="984.4" y="1291.95">va</text></g>
<g id="leaf-49" class="n"><rect x="999.21" y="1249.9" width="272.4" height="117" rx="3" fill="#fdf4f7"/><text x="1003.4" y="1291.95">va</text></g>
<g id="leaf-50" class="n"><rect x="1018.20" y="1249.9" width="272.4" height="117" rx="3" fill="#ffffff"/><text x="1022.4" y="1291.95">va</text></g>
<g id="leaf-51" class="n"><rect x="1037.19" y="1249.9" width="272.4" height="117" rx="3" fill="#fbe4f4"/><text x="1041.4" y="1291.95">va</text></g>
<g id="leaf-52" class="n"><rect x="1056.18" y="1249.9" width="272.4" height="117" rx="3" fill="#fbe4f4"/><text x="1060.4" y="1291.95">va</text></g>
<g id="leaf-53" class="n"><rect x="1075.17" y="1249.9" width="272.4" height="117" rx="3" fill="#f4b4cc"/><text x="1079.4" y="1291.95">va</text></g>
<g id="leaf-54" class="n"><rect x="1094.16" y="1249.9" width="272.4" height="117" rx="3" fill="#f0e2fa"/><text x="1098.4" y="1291.95">va</text></g>
<g id="leaf-55" class="n"><rect x="1113.15" y="1249.9" width="272.4" height="117" rx="3" fill="#f7f0fc"/><text x="1117.4" y="1291.95">va</text></g>
<g id="leaf-56" class="n"><rect x="1132.14" y="1249.9" width="272.4" height="117" rx="3" fill="#ffffff"/><text x="1136.3" y="1291.95">va</text></g>
<g id="leaf-57" class="n"><rect x="1151.13" y="1249.9" width="272.4" height="117" rx="3" fill="#ffffff"/><text x="1155.3" y="1291.95">va</text></g>
<g id="leaf-58" class="n"><rect x="1170.12" y="1249.9" width="272.4" height="117" rx="3" fill="#ffffff"/><text x="1174.3" y="1291.95">va</text></g>
<g id="leaf-59" class="n"><rect x="1189.11" y="1249.9" width="272.4" height="117" rx="3" fill="#ffffff"/><text x="1193.3" y="1291.95">va</text></g>
<g id="leaf-60" class="n"><rect x="1208.10" y="1249.9" width="272.4" height="117" rx="3" fill="#fef4f8"/><text x="1212.3" y="1291.95">va</text></g>
<g id="leaf-61" class="n"><rect x="1227.09" y="1249.9" width="272.4" height="117" rx="3" fill="#f8c8f4"/><text x="1231.3" y="1291.95">va</text></g>
<g id="leaf-62" class="n"><rect x="1246.08" y="1249.9" width="272.4" height="117" rx="3" fill="#f8d9ec"/><text x="1250.3" y="1291.95">va</text></g>
<g id="leaf-63" class="n"><rect x="1265.1" y="1249.9" width="272.4" height="117" rx="3" fill="#f3def8"/>
<text class="m" x="1401.3" y="1264.29"><tspan x="1401.3">entropy = 3.093</tspan><tspan x="1401.3" dy="13.83">samples = 14</tspan><tspan x="1401.3" dy="13.83">value = [0, 1, 0, 0, 0, 0, 0, 0, 0, 0, 0, 0, 0, 0</tspan><tspan x="1401.3" dy="13.83">0, 0, 0, 0, 0, 0, 0, 0, 0, 0, 0, 0, 0, 0</tspan><tspan x="1401.3" dy="13.83">0, 0, 0, 0, 0, 0, 0, 0, 0, 0, 0, 0, 1, 0</tspan><tspan x="1401.3" dy="13.83">0, 0, 0, 0, 0, 0, 0, 2, 0, 1, 0, 0, 0, 4</tspan><tspan x="1401.3" dy="13.83">1, 1, 0, 0, 1, 0, 0, 0, 0, 1, 0, 1, 0, 0</tspan><tspan x="1401.3" dy="13.83">0, 0, 0, 0, 0, 0]</tspan></text></g>
</g>
</svg>
